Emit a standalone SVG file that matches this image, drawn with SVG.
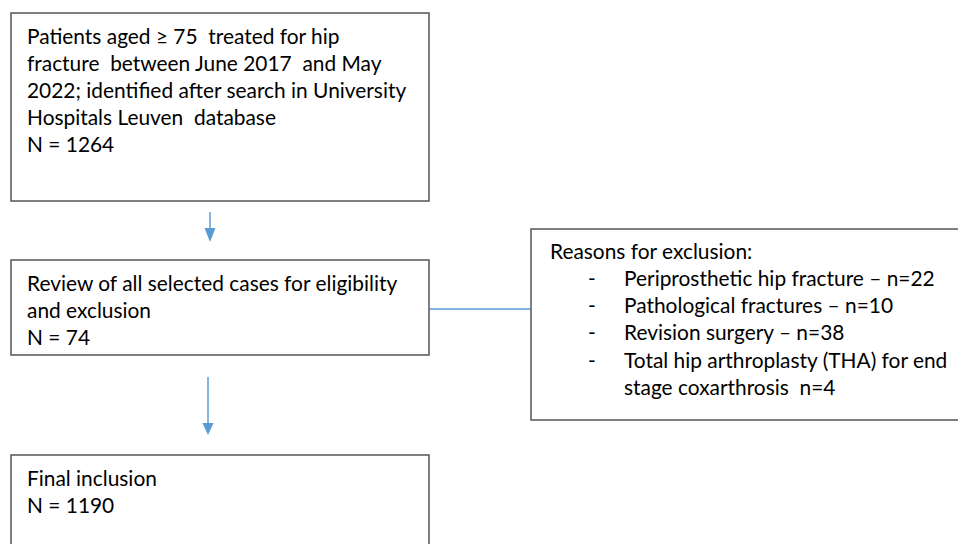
<svg xmlns="http://www.w3.org/2000/svg" width="958" height="544" viewBox="0 0 958 544">
<defs>
<style>
.box{fill:#fff;stroke:#555;stroke-width:1.5}
.t{font-family:Lato,"Open Sans","Liberation Sans",sans-serif;font-size:20.9px;fill:#000;white-space:pre}
.c{stroke:#5b9bd5;stroke-width:1.5;fill:none}
.h{fill:#5b9bd5}
</style>
</defs>
<rect width="958" height="544" fill="#fff"/>
<g id="connectors">
<line class="c" x1="210" y1="212" x2="210" y2="229"/>
<path class="h" d="M204.5,228 L215.5,228 L210,242 Z"/>
<line class="c" x1="208" y1="377" x2="208" y2="424"/>
<path class="h" d="M202.5,423 L213.5,423 L208,435 Z"/>
<line class="c" x1="429" y1="309" x2="531" y2="309"/>
</g>
<g id="n1">
<rect class="box" x="11" y="13" width="418" height="188"/>
<text class="t" x="27" y="44" xml:space="preserve">Patients aged ≥ 75  treated for hip</text>
<text class="t" x="27" y="71" xml:space="preserve">fracture  between June 2017  and May</text>
<text class="t" x="27" y="98">2022; identified after search in University</text>
<text class="t" x="27" y="125" xml:space="preserve">Hospitals Leuven  database</text>
<text class="t" x="27" y="152">N = 1264</text>
</g>
<g id="n2">
<rect class="box" x="11" y="260" width="418" height="95"/>
<text class="t" x="27" y="291">Review of all selected cases for eligibility</text>
<text class="t" x="27" y="318">and exclusion</text>
<text class="t" x="27" y="345">N = 74</text>
</g>
<g id="n3">
<rect class="box" x="531" y="229" width="440" height="191"/>
<text class="t" x="550" y="259">Reasons for exclusion:</text>
<text class="t" x="588" y="286">-</text>
<text class="t" x="624" y="286">Periprosthetic hip fracture – n=22</text>
<text class="t" x="588" y="313">-</text>
<text class="t" x="624" y="313">Pathological fractures – n=10</text>
<text class="t" x="588" y="340">-</text>
<text class="t" x="624" y="340">Revision surgery – n=38</text>
<text class="t" x="588" y="368">-</text>
<text class="t" x="624" y="368">Total hip arthroplasty (THA) for end</text>
<text class="t" x="624" y="395" xml:space="preserve">stage coxarthrosis  n=4</text>
</g>
<g id="n4">
<rect class="box" x="11" y="455" width="418" height="100"/>
<text class="t" x="27" y="486">Final inclusion</text>
<text class="t" x="27" y="513">N = 1190</text>
</g>
</svg>
